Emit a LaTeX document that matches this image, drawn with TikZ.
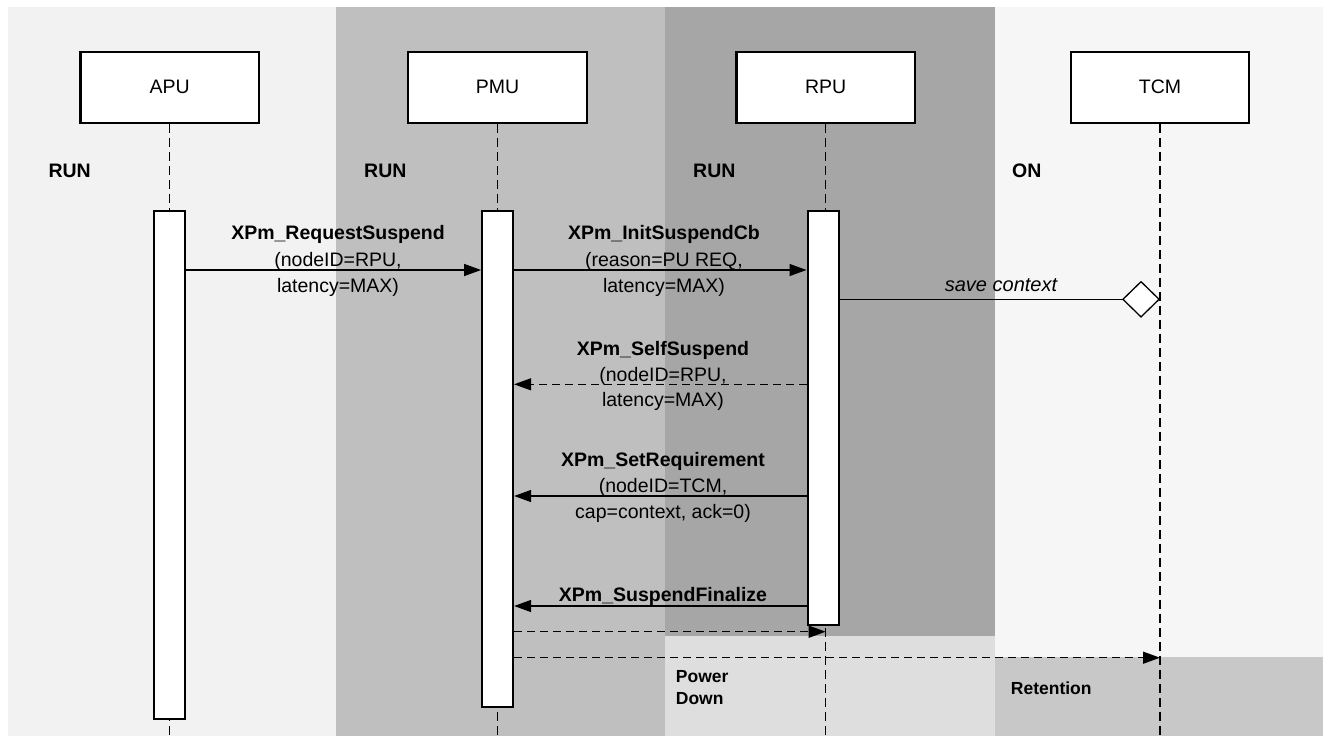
\documentclass[tikz,border=0pt]{standalone}
\usepackage{fontspec}
\setmainfont{Liberation Sans}
\usetikzlibrary{arrows.meta}
\definecolor{regA}{HTML}{F2F2F2}
\definecolor{regP}{HTML}{BFBFBF}
\definecolor{regR}{HTML}{A6A6A6}
\definecolor{regRlow}{HTML}{DEDEDE}
\definecolor{regT}{HTML}{F6F6F6}
\definecolor{regTlow}{HTML}{C8C8C8}
\tikzset{
  lbox/.style={draw=black, fill=white, line width=2.2pt, minimum width=178.5pt, minimum height=71pt, inner sep=0pt, font=\fontsize{19.5}{23}\selectfont},
  actbar/.style={draw=black, fill=white, line width=2pt, minimum width=31pt, inner sep=0pt},
  life/.style={line width=1.4pt, dash pattern=on 9pt off 5pt},
  msg/.style={line width=1.3pt, -{Triangle[length=17pt,width=12pt]}},
  msgdash/.style={msg, dash pattern=on 8pt off 5pt},
  mtitle/.style={anchor=base, inner sep=0pt, font=\fontsize{19.5}{23}\selectfont\bfseries},
  mtext/.style={anchor=base, inner sep=0pt, font=\fontsize{19.5}{23}\selectfont},
  statelbl/.style={anchor=base west, inner sep=0pt, font=\fontsize{19.5}{23}\selectfont\bfseries},
  statesm/.style={anchor=base west, inner sep=0pt, font=\fontsize{17.5}{21.5}\selectfont\bfseries},
}
\begin{document}
\begin{tikzpicture}[x=1pt,y=-1pt]
\useasboundingbox (0,0) rectangle (1332,736);
% regions
\fill[regA] (8,6.5) rectangle (336,736);
\fill[regP] (336,6.5) rectangle (665,736);
\fill[regR] (665,6.5) rectangle (995,635.7);
\fill[regRlow] (665,635.7) rectangle (995,736);
\fill[regT] (995,6.5) rectangle (1323,656.7);
\fill[regTlow] (995,656.7) rectangle (1323,736);
% lifeline heads
\node[lbox] (apu) at (169.7,87.2) {APU};
\node[lbox] (pmu) at (497.6,87.2) {PMU};
\node[lbox] (rpu) at (825.7,87.2) {RPU};
\node[lbox] (tcm) at (1160,87.2) {TCM};
\coordinate (apuend) at (169.7,736);
\coordinate (pmuend) at (497.6,736);
\coordinate (rpuend) at (825.7,736);
\coordinate (tcmend) at (1160,736);
\draw[life] (apu.south) -- (apuend);
\draw[life] (pmu.south) -- (pmuend);
\draw[life] (rpu.south) -- (rpuend);
\draw[life] (tcm.south) -- (tcmend);
% states
\node[statelbl] (s1) at (48.3,177.3) {RUN};
\node[statelbl] (s2) at (364,177.3) {RUN};
\node[statelbl] (s3) at (693,177.3) {RUN};
\node[statelbl] (s4) at (1012,177.3) {ON};
\node[statesm] (s5) at (675.7,682.7) {Power};
\node[statesm] (s6) at (675.7,704) {Down};
\node[statesm] (s7) at (1010.7,694) {Retention};
% activation bars
\node[actbar, minimum height=508.3pt] (apubar) at (169.9,465.15) {};
\node[actbar, minimum height=495.7pt] (pmubar) at (497.6,458.85) {};
\node[actbar, minimum height=413.5pt] (rpubar) at (823,417.75) {};
% message y levels
\coordinate (y1) at (0,270);
\coordinate (ysc) at (0,299.3);
\coordinate (y4) at (0,384.3);
\coordinate (y5) at (0,496);
\coordinate (y6) at (0,606);
\coordinate (y7) at (0,631.7);
\coordinate (y8) at (0,657.7);
% messages
\draw[msg] (apubar.east |- y1) -- (pmubar.west |- y1);
\node[mtitle] (m1a) at (338,239) {XPm\_RequestSuspend};
\node[mtext] (m1b) at (338,266) {(nodeID=RPU,};
\node[mtext] (m1c) at (338,292) {latency=MAX)};
\draw[msg] (pmubar.east |- y1) -- (rpubar.west |- y1);
\node[mtitle] (m2a) at (664,239) {XPm\_InitSuspendCb};
\node[mtext] (m2b) at (664,266) {(reason=PU REQ,};
\node[mtext] (m2c) at (664,292) {latency=MAX)};
\draw[line width=1.3pt, -{Diamond[fill=white, length=38pt, width=37pt]}] (rpubar.east |- ysc) -- (tcm |- ysc);
\node[anchor=base, inner sep=0pt, font=\fontsize{20}{24}\selectfont\itshape] (sc) at (1001,291.7) {save context};
\draw[msgdash] (rpubar.west |- y4) -- (pmubar.east |- y4);
\node[mtitle] (m4a) at (663,355) {XPm\_SelfSuspend};
\node[mtext] (m4b) at (663,381) {(nodeID=RPU,};
\node[mtext] (m4c) at (663,406) {latency=MAX)};
\draw[msg] (rpubar.west |- y5) -- (pmubar.east |- y5);
\node[mtitle] (m5a) at (663,466) {XPm\_SetRequirement};
\node[mtext] (m5b) at (663,492.7) {(nodeID=TCM,};
\node[mtext] (m5c) at (663,518) {cap=context, ack=0)};
\draw[msg] (rpubar.west |- y6) -- (pmubar.east |- y6);
\node[mtitle] (m6a) at (663,601.7) {XPm\_SuspendFinalize};
\draw[msgdash] (pmubar.east |- y7) -- (rpu |- y7);
\draw[msgdash] (pmubar.east |- y8) -- (tcm |- y8);
\end{tikzpicture}
\end{document}
